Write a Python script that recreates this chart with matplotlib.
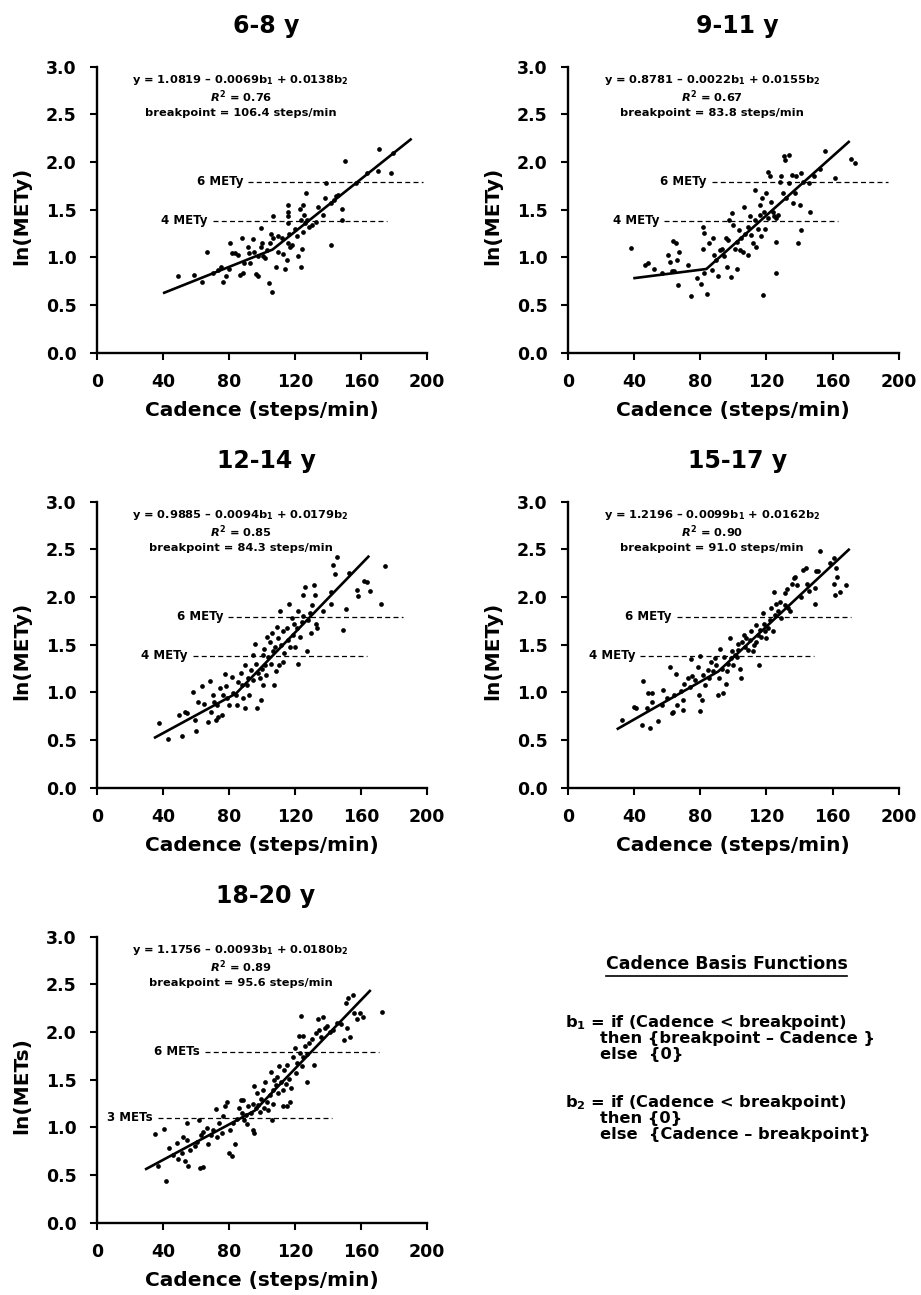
import numpy as np
import matplotlib
matplotlib.use("Agg")
import matplotlib.pyplot as plt
from matplotlib.lines import Line2D

plt.rcParams['font.family'] = ['DejaVu Sans']
plt.rcParams['font.weight'] = 'bold'
plt.rcParams['mathtext.fontset'] = 'custom'
plt.rcParams['mathtext.rm'] = 'DejaVu Sans:bold'
plt.rcParams['mathtext.bf'] = 'DejaVu Sans:bold'
plt.rcParams['mathtext.it'] = 'DejaVu Sans:italic:bold'

# ---------------- data (cadence, ln(METs)) ----------------
pts_6_8 = [(49.3,0.80),(59,0.81),(63.8,0.74),(66.5,1.06),(70.5,0.84),(73.5,0.87),(75,0.90),(76.6,0.74),
           (78,0.80),(80,0.88),(80.6,1.15),(81.6,1.05),(83.6,1.05),(85.7,1.02),(86.7,0.81),(88.3,0.84),
           (87.7,1.20),(89,0.94),(91.7,1.11),(92.3,1.05),(92.7,0.94),(94.3,1.19),(95.2,1.06),(96.4,0.83),
           (97.4,0.80),(97.8,1.01),(99.2,1.31),(99.2,1.11),(99.8,1.15),(100.8,1.01),(101.8,0.99),(102.8,1.08),
           (104.4,0.73),(104.8,1.15),(105.9,0.64),(105.3,1.24),(106.9,1.43),(106.9,1.20),(108.5,0.90),
           (109.5,1.06),(109.9,1.22),(111.9,1.20),(112.9,1.04),(114,0.88),(115,0.97),(115.5,1.55),(116,1.48),
           (116,1.43),(116,1.36),(115.5,1.15),(116.6,1.25),(117,1.11),(118,1.13),(120,1.30),(121,1.22),
           (122,1.01),(123,1.51),(123.4,1.39),(123.4,0.90),(124,1.09),(125,1.55),(125.5,1.44),(125,1.27),
           (126,1.36),(126.7,1.67),(127,1.39),(128.7,1.32),(130,1.34),(133,1.37),(134,1.53),(137,1.44),
           (138,1.62),(139,1.78),(141.6,1.57),(142,1.13),(143.6,1.60),(145,1.64),(146,1.65),(148.3,1.51),
           (148.3,1.39),(150,2.01),(157,1.78),(163.4,1.89),(170,1.91),(171,2.14),(178,1.89),(179.6,2.10)]

pts_9_11 = [(38.2,1.10),(46.7,0.92),(48.3,0.94),(51.9,0.88),(56.7,0.84),(60.8,1.03),(61.8,0.95),(63.8,1.17),
            (65.2,1.15),(62.8,0.86),(64.4,0.86),(65.8,0.97),(67.2,1.06),(66.8,0.71),(72.4,0.92),(74.8,0.59),
            (77.9,0.78),(80.5,0.72),(81.9,1.32),(82.5,1.26),(81.9,1.09),(83.9,0.62),(82.5,0.84),(85.3,1.15),
            (88,1.20),(87,0.87),(88.6,1.03),(89.9,0.97),(91,0.80),(92,1.08),(93,1.09),(94.6,1.01),(95.4,1.20),
            (96.4,0.90),(97,1.18),(97.4,1.39),(98.6,0.79),(99,1.47),(100,1.34),(101,1.09),(102,1.16),
            (102.4,0.88),(103.4,1.29),(104,1.08),(105,1.20),(106,1.06),(106.6,1.53),(107,1.25),(108.7,1.02),
            (109,1.32),(110,1.43),(111,1.23),(112,1.15),(113,1.39),(113,1.71),(113.7,1.11),(115,1.30),
            (116,1.55),(116,1.44),(117,1.22),(117.5,1.62),(118,0.61),(118.7,1.48),(119.5,1.30),(120,1.67),
            (121,1.90),(121,1.41),(122,1.85),(123,1.58),(124,1.48),(124.7,1.43),(125.6,1.16),(125.6,0.84),
            (126,1.41),(127,1.44),(128,1.79),(129,1.85),(130,1.67),(130.8,2.06),(131.6,2.02),(134,2.07),
            (132.2,1.62),(134,1.78),(135.6,1.86),(136.2,1.57),(137.2,1.67),(138,1.85),(139.2,1.15),
            (140.2,1.55),(140.8,1.88),(141.2,1.29),(142.3,1.79),(145.7,1.78),(146.3,1.48),(148.9,1.85),
            (152.7,1.93),(155.7,2.12),(161.4,1.83),(171,2.03),(173.4,1.99)]

pts_12_14 = [(37.8,0.68),(43.2,0.51),(49.5,0.76),(51.7,0.54),(53.3,0.79),(54.7,0.78),(58.4,1.00),(59.4,0.71),
             (60,0.60),(61.4,0.90),(63.4,1.07),(65,0.88),(67.5,0.69),(68.5,1.12),(68.9,0.79),(70,0.97),
             (70.9,0.90),(72.1,0.71),(73.5,0.74),(75.6,0.76),(72.5,0.87),(74.5,1.05),(76.2,0.97),(77.6,1.19),
             (78.2,1.07),(79,0.94),(80.2,0.87),(81.6,1.16),(82.6,0.99),(84.2,0.97),(84.6,0.87),(85.7,1.11),
             (87,1.20),(87.7,1.08),(88.7,0.94),(89.7,0.84),(89.7,1.29),(90.7,1.08),(91.7,1.15),(92.3,0.97),
             (93.1,1.23),(94.3,1.13),(94.7,1.39),(95.8,1.51),(96.4,1.30),(97.2,0.84),(97.8,1.20),(98.8,1.15),
             (99.2,0.92),(99.8,1.25),(100.4,1.08),(100.8,1.39),(101.2,1.46),(101.8,1.29),(102.4,1.18),
             (102.8,1.58),(103.8,1.37),(104.8,1.53),(105.3,1.30),(105.9,1.62),(106.9,1.43),(107.5,1.08),
             (107.9,1.48),(108.5,1.22),(108.9,1.69),(109.9,1.57),(110.5,1.29),(110.9,1.85),(111.3,1.50),
             (112.5,1.32),(112.9,1.64),(113.3,1.41),(115,1.67),(115.6,1.55),(116.6,1.93),(117,1.48),(118,1.78),
             (118.7,1.60),(119.4,1.72),(120,1.48),(121,1.67),(122,1.30),(122,1.85),(123,1.58),(124,1.74),
             (125,2.02),(125,1.80),(126,2.11),(127,1.43),(128,1.76),(129,1.83),(129.5,1.62),(130,1.92),
             (131.5,2.13),(132,2.02),(132.7,1.72),(133.5,1.67),(137,1.85),(142,2.05),(142,1.93),(142.8,2.34),
             (144.2,2.24),(145.3,2.42),(148.9,1.65),(150.9,1.87),(153,2.25),(157.4,2.07),(158,2.01),
             (161.8,2.17),(163.4,2.16),(165.5,2.06),(172,1.93),(174.5,2.33)]

pts_15_17 = [(32.6,0.71),(40.2,0.85),(41.2,0.84),(45,0.66),(45.7,1.12),(48.7,0.99),(50.7,0.99),(49.7,0.63),
             (47.7,0.84),(50.7,0.90),(54.3,0.70),(57.7,1.03),(57.1,0.87),(59.8,0.94),(61.8,1.27),(62.8,0.78),
             (63.8,0.79),(64.4,0.97),(65.4,1.19),(65.8,0.87),(68.4,1.01),(69.8,0.81),(70.4,1.09),(69.8,0.92),
             (72.4,1.15),(73.8,1.06),(74.4,1.35),(75.3,1.17),(76.9,1.13),(78.9,1.27),(79.9,1.38),(79.3,0.97),
             (79.9,0.80),(81.3,0.92),(81.9,1.18),(82.9,1.08),(84.5,1.23),(85.3,1.15),(86.5,1.32),(88,1.22),
             (88.9,1.36),(89.9,1.29),(91,0.97),(91.3,1.15),(92,1.46),(93,1.25),(93.6,0.99),(94.6,1.37),
             (95.4,1.09),(96,1.22),(97,1.30),(98,1.57),(98.6,1.36),(99,1.43),(100,1.29),(101,1.39),(102,1.37),
             (102.6,1.51),(103,1.44),(104,1.25),(105,1.15),(105.4,1.53),(106.6,1.60),(107,1.48),(108,1.57),
             (109,1.44),(110,1.55),(111,1.64),(112,1.43),(112.7,1.50),(113.7,1.53),(114,1.71),(114.7,1.60),
             (115.5,1.29),(116,1.65),(117,1.58),(118,1.83),(118.7,1.72),(119.5,1.64),(120,1.57),(121,1.67),
             (122,1.76),(123,1.88),(124,1.64),(124.7,2.05),(125,1.81),(126,1.93),(127,1.85),(128,1.95),
             (129,1.78),(131,2.04),(131.6,1.92),(132.8,2.08),(133.2,1.88),(134.2,1.85),(135.6,2.14),
             (136.8,2.20),(137.6,2.21),(138.8,2.13),(140.8,2.00),(142.3,2.28),(143.7,2.30),(144.3,2.14),
             (145.7,2.06),(149.3,1.93),(149.3,2.10),(150.3,2.27),(151.3,2.27),(152.3,2.48),(158.4,2.36),
             (161,2.41),(161,2.14),(162.4,2.30),(163,2.21),(161.4,2.02),(164.4,2.05),(168.4,2.13)]

pts_18_20 = [(35.2,0.93),(37.2,0.60),(40.6,0.98),(41.8,0.44),(43.8,0.78),(45.9,0.71),(48.3,0.84),(49.3,0.67),
             (51.3,0.73),(52.3,0.90),(53.3,0.65),(54.3,0.87),(54.7,1.05),(55.4,0.59),(56.4,0.76),(59.4,0.80),
             (60.8,0.85),(62,1.08),(62.4,0.57),(64.4,0.58),(62.8,0.92),(64.4,0.95),(66.5,0.99),(67.5,0.83),
             (68.9,0.92),(70.5,0.97),(72.1,1.19),(72.5,0.90),(74.1,1.05),(75.6,0.94),(76.6,1.12),(77.6,1.22),
             (78.6,1.27),(80.2,0.73),(81.6,0.70),(80.6,0.97),(82.6,1.05),(83.6,0.83),(84.6,1.09),(86.3,1.20),
             (87,1.29),(87.7,1.15),(88.7,1.29),(89.1,1.08),(90.3,1.13),(90.7,1.04),(91.7,1.22),(93.1,1.15),
             (94.7,0.97),(95.2,0.94),(94.3,1.25),(95.2,1.43),(96.4,1.20),(97.2,1.36),(97.8,1.23),(98.8,1.16),
             (99.2,1.30),(100.4,1.39),(101.2,1.20),(101.8,1.48),(102.8,1.27),(103.8,1.18),(104.8,1.34),
             (105.3,1.58),(105.9,1.08),(106.5,1.39),(106.9,1.25),(107.3,1.50),(108.5,1.44),(109.3,1.53),
             (109.9,1.36),(110.5,1.64),(111.3,1.48),(112.5,1.39),(112.9,1.22),(115,1.22),(113.3,1.60),
             (114.5,1.46),(115.4,1.65),(116.2,1.51),(117,1.27),(117.6,1.41),(119,1.74),(120,1.83),(120.6,1.57),
             (121.4,1.67),(122.6,1.96),(124.6,1.96),(123,1.78),(123.4,2.17),(124,1.64),(125,1.74),(126,1.85),
             (127,1.77),(127.5,1.48),(128.7,1.88),(130,1.93),(131.5,1.65),(133,1.99),(134.1,2.14),(137.2,2.16),
             (134.7,2.02),(136,1.95),(138.2,2.04),(139.6,2.06),(141.2,2.00),(143.2,2.02),(145.3,2.09),
             (147.7,2.08),(149.7,1.92),(151,2.30),(151.3,2.04),(152.3,2.36),(153.3,1.95),(155.4,2.39),
             (155.8,2.20),(157.4,2.14),(159.4,2.20),(161.4,2.16),(172.5,2.21)]

titles = ["6-8 y", "9-11 y", "12-14 y", "15-17 y", "18-20 y"]
ylabels = ["ln(METy)", "ln(METy)", "ln(METy)", "ln(METy)", "ln(METs)"]
intercepts = [1.0819, 0.8781, 0.9885, 1.2196, 1.1756]
b1_coefs = [0.0069, 0.0022, 0.0094, 0.0099, 0.0093]
b2_coefs = [0.0138, 0.0155, 0.0179, 0.0162, 0.0180]
r2_values = ["0.76", "0.67", "0.85", "0.90", "0.89"]
breakpoints = [106.4, 83.8, 84.3, 91.0, 95.6]
fit_ranges = [(40, 190.7), (39.6, 170.4), (34.5, 165), (29.6, 170.4), (29.1, 165.9)]
# reference intensity lines: (METs value, label, x start, x end)
upper_refs = [(6, "6 METy", 91.7, 197.8), (6, "6 METy", 86.9, 193.6), (6, "6 METy", 79.6, 185.7),
              (6, "6 METy", 65.8, 171), (6, "6 METs", 65.5, 171)]
lower_refs = [(4, "4 METy", 70, 175.6), (4, "4 METy", 58.3, 163.4), (4, "4 METy", 58, 163.4),
              (4, "4 METy", 43.7, 148.9), (3, "3 METs", 36.8, 142.2)]
point_sets = [pts_6_8, pts_9_11, pts_12_14, pts_15_17, pts_18_20]

xticks = [0, 40, 80, 120, 160, 200]
yticks = [0.0, 0.5, 1.0, 1.5, 2.0, 2.5, 3.0]

# ---------------- layout ----------------
W, H = 921, 1295
fig = plt.figure(figsize=(W / 100, H / 100), dpi=100)

# (left px, bottom px, width px)
boxes = [(97, 352.7, 330), (567.7, 352.7, 331), (97, 787.7, 330), (567.7, 787.7, 331), (97, 1222.7, 330)]
AX_H = 286

for i in range(5):
    lp, bp_px, wp = boxes[i]
    ax = fig.add_axes([lp / W, 1 - bp_px / H, wp / W, AX_H / H])
    cad, lnm = zip(*point_sets[i])
    ax.plot(cad, lnm, 'o', ms=3.4, mew=0, color='black', zorder=3)

    bpt = breakpoints[i]
    x0, x1 = fit_ranges[i]
    xs = np.array([x0, bpt, x1])
    b1 = np.where(xs < bpt, bpt - xs, 0)
    b2 = np.where(xs < bpt, 0, xs - bpt)
    ys = intercepts[i] - b1_coefs[i] * b1 + b2_coefs[i] * b2
    ax.plot(xs, ys, color='black', lw=1.9, zorder=4, solid_capstyle='butt')

    for met, lab, xa, xb in (upper_refs[i], lower_refs[i]):
        yv = np.log(met)
        ax.plot([xa, xb], [yv, yv], color='black', lw=0.9, dashes=(4.0, 2.6), zorder=2)
        ax.text(xa - 3, yv, lab, ha='right', va='center', fontsize=8.5, fontweight='bold')

    ax.text(0.436, 0.953, "y = %.4f \u2013 %.4fb$_1$ + %.4fb$_2$" % (intercepts[i], b1_coefs[i], b2_coefs[i]),
            transform=ax.transAxes, ha='center', va='center', fontsize=8.2, fontweight='bold')
    ax.text(0.436, 0.895, "$R^2$ = %s" % r2_values[i],
            transform=ax.transAxes, ha='center', va='center', fontsize=8.2, fontweight='bold')
    ax.text(0.436, 0.837, "breakpoint = %.1f steps/min" % bpt,
            transform=ax.transAxes, ha='center', va='center', fontsize=8.2, fontweight='bold')

    ax.text(0.512, 1.118, titles[i], transform=ax.transAxes, ha='center', va='baseline',
            fontsize=17, fontweight='bold')

    ax.set_xlim(0, 200)
    ax.set_ylim(0, 3.0)
    ax.set_xticks(xticks)
    ax.set_yticks(yticks)
    ax.set_yticklabels(["%.1f" % v for v in yticks])
    ax.spines['top'].set_visible(False)
    ax.spines['right'].set_visible(False)
    for s in ('left', 'bottom'):
        ax.spines[s].set_linewidth(1.7)
    ax.tick_params(direction='out', length=5, width=1.5, pad=9.5, labelsize=12.5)
    for lbl in ax.get_xticklabels() + ax.get_yticklabels():
        lbl.set_fontweight('bold')
    ax.set_xlabel("Cadence (steps/min)", fontsize=14.5, fontweight='bold', va='center')
    ax.xaxis.set_label_coords(0.5, -57.3 / AX_H)
    ax.set_ylabel(ylabels[i], fontsize=14.5, fontweight='bold', va='center', ha='center')
    ax.yaxis.set_label_coords(-75 / wp, 0.48)

# ---------------- basis function text ----------------
def fx(px):
    return px / W

def fy(py):
    return 1 - py / H

head = fig.text(fx(726.5), fy(964), "Cadence Basis Functions", ha='center', va='center',
                fontsize=12.5, fontweight='bold')
basis_lines = [
    (565, 1023, "b$_1$ = if (Cadence < breakpoint)"),
    (600, 1039, "then {breakpoint \u2013 Cadence }"),
    (600, 1055, "else  {0}"),
    (565, 1102, "b$_2$ = if (Cadence < breakpoint)"),
    (600, 1118, "then {0}"),
    (600, 1135, "else  {Cadence \u2013 breakpoint}"),
]
for xp, yp, s in basis_lines:
    fig.text(fx(xp), fy(yp), s, ha='left', va='center', fontsize=11.7, fontweight='bold')

fig.canvas.draw()
bb = head.get_window_extent()
fig.add_artist(Line2D([bb.x0 / W, bb.x1 / W], [fy(976), fy(976)], color='black', lw=1.2,
                      transform=fig.transFigure))

fig.savefig("out.png", dpi=100)
